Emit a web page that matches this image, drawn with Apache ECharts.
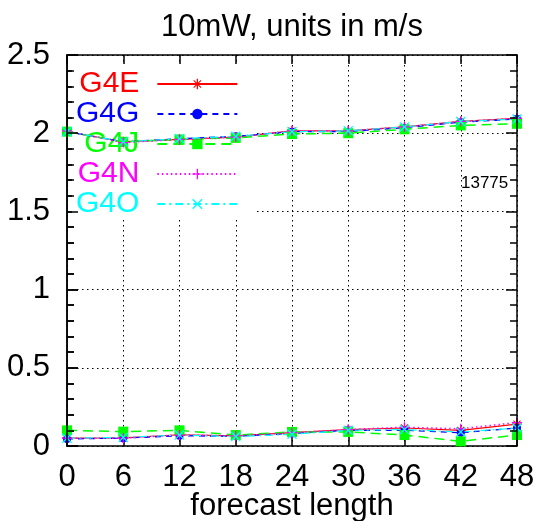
<!DOCTYPE html>
<html><head><meta charset="utf-8">
<script src="https://cdn.jsdelivr.net/npm/echarts@6/dist/echarts.min.js"></script>
<style>html,body{margin:0;padding:0;background:#fff}#c{width:542px;height:521px}</style>
</head><body><div id="c"></div>
<script>
// ---- data ----
const forecastLength = [0, 6, 12, 18, 24, 30, 36, 42, 48];
const models = ['G4E', 'G4G', 'G4J', 'G4N', 'G4O'];
// upper curves (RMS) per model
const g4eHigh = [2.01, 1.945, 1.96, 1.975, 2.015, 2.015, 2.04, 2.075, 2.095];
const g4gHigh = [2.01, 1.945, 1.965, 1.98, 2.01, 2.01, 2.035, 2.07, 2.09];
const g4jHigh = [2.01, 1.945, 1.96, 1.97, 1.995, 2.0, 2.025, 2.05, 2.06];
const g4nHigh = [2.015, 1.94, 1.96, 1.975, 2.015, 2.015, 2.04, 2.075, 2.095];
const g4oHigh = [2.01, 1.945, 1.965, 1.98, 2.01, 2.015, 2.04, 2.075, 2.09];
// lower curves (bias) per model
const g4eLow = [0.05, 0.052, 0.072, 0.065, 0.085, 0.105, 0.115, 0.10, 0.14];
const g4gLow = [0.045, 0.05, 0.065, 0.062, 0.08, 0.10, 0.10, 0.085, 0.115];
const g4jLow = [0.10, 0.092, 0.10, 0.07, 0.09, 0.09, 0.07, 0.03, 0.07];
const g4nLow = [0.05, 0.05, 0.07, 0.065, 0.085, 0.105, 0.12, 0.11, 0.15];
const g4oLow = [0.05, 0.055, 0.07, 0.06, 0.075, 0.10, 0.105, 0.09, 0.115];
const titleText = '10mW, units in m/s';
const xName = 'forecast length';
const noteText = '13775';

// ---- styles ----
const FONT = 'Liberation Sans, Arial, sans-serif';
const P_STAR = 'path://M-0.6,-5H0.6V5H-0.6Z M-5,-0.6H5V0.6H-5Z M-3.19,-3.89L3.89,3.19L3.19,3.89L-3.89,-3.19Z M3.19,-3.89L3.89,-3.19L-3.19,3.89L-3.89,3.19Z';
const P_PLUS = 'path://M-0.6,-5H0.6V5H-0.6Z M-5,-0.6H5V0.6H-5Z';
const P_X = 'path://M-3.19,-3.89L3.89,3.19L3.19,3.89L-3.89,-3.19Z M3.19,-3.89L3.89,-3.19L-3.19,3.89L-3.89,3.19Z';
const styles = {
  G4E: {color: '#ff0000', symbol: P_STAR, size: 10, type: 'solid', width: 1.2},
  G4G: {color: '#0000ff', symbol: 'circle', size: 8, type: [6, 5], width: 1.2},
  G4J: {color: '#00ff00', symbol: 'rect', size: 10, type: [10, 6], width: 1.5},
  G4N: {color: '#ff00ff', symbol: P_PLUS, size: 10, type: [1.5, 3], width: 1.5},
  G4O: {color: '#00ffff', symbol: P_X, size: 10, type: [8, 4, 2, 4], width: 1.2}
};
const dataHigh = {G4E: g4eHigh, G4G: g4gHigh, G4J: g4jHigh, G4N: g4nHigh, G4O: g4oHigh};
const dataLow = {G4E: g4eLow, G4G: g4gLow, G4J: g4jLow, G4N: g4nLow, G4O: g4oLow};

const series = [];
[dataHigh, dataLow].forEach(set => {
  models.forEach(m => {
    const s = styles[m];
    series.push({
      name: m, type: 'line', z: 5,
      data: forecastLength.map((x, i) => [x, set[m][i]]),
      symbol: s.symbol, symbolSize: s.size, showSymbol: true,
      itemStyle: {color: s.color},
      lineStyle: {color: s.color, type: s.type, width: s.width},
      animation: false
    });
  });
});

const axisLine = {show: true, onZero: false, lineStyle: {color: '#000', width: 1.5}};
const tickX = {show: true, inside: true, length: 9, lineStyle: {color: '#000', width: 1.5}};
const tickY = {show: true, inside: true, length: 11, lineStyle: {color: '#000', width: 1.5}};
const minorY = {show: true, splitNumber: 5, length: 7, lineStyle: {color: '#000', width: 1.5}};
const gridLine = {show: true, lineStyle: {color: '#000', type: [1.5, 3.5], width: 1}};
const chart = echarts.init(document.getElementById('c'));
chart.setOption({
  backgroundColor: '#fff',
  animation: false,
  title: {text: titleText, left: 287, textAlign: 'center', top: 7,
    textStyle: {fontFamily: FONT, fontSize: 31, fontWeight: 'normal', color: '#000'}},
  grid: {left: 67, right: 25, top: 55, bottom: 75, outerBoundsMode: 'none', containLabel: false},
  legend: {
    orient: 'vertical', align: 'right', left: 72, top: 64,
    padding: [5, 17, 0, 4], backgroundColor: '#fff',
    itemWidth: 80, itemHeight: 13, itemGap: 0,
    textStyle: {fontFamily: FONT, fontSize: 30, lineHeight: 28, padding: [0, 13, 0, 0]},
    data: models.map(m => ({name: m, textStyle: {color: styles[m].color}}))
  },
  xAxis: [{
    type: 'value', min: 0, max: 48, interval: 6, position: 'bottom', z: 0,
    name: xName, nameLocation: 'middle', nameGap: 45, nameMoveOverlap: false,
    nameTextStyle: {fontFamily: FONT, fontSize: 31, color: '#000'},
    axisLine: axisLine, axisTick: tickX,
    axisLabel: {fontFamily: FONT, fontSize: 31, color: '#000', margin: 16},
    splitLine: gridLine
  }, {
    type: 'value', min: 0, max: 48, interval: 6, position: 'top', z: 6,
    axisLine: axisLine, axisTick: tickX,
    axisLabel: {show: false}, splitLine: {show: false}
  }],
  yAxis: [{
    type: 'value', min: 0, max: 2.5, interval: 0.5, position: 'left', z: 0,
    axisLine: axisLine, axisTick: tickY, minorTick: minorY,
    axisLabel: {fontFamily: FONT, fontSize: 31, color: '#000', margin: 17},
    splitLine: gridLine
  }, {
    type: 'value', min: 0, max: 2.5, interval: 0.5, position: 'right', z: 6,
    axisLine: axisLine, axisTick: tickY, minorTick: minorY,
    axisLabel: {show: false}, splitLine: {show: false}
  }, {
    type: 'value', min: 0, max: 2.5, interval: 0.5, position: 'left', z: 6,
    axisLine: axisLine, axisTick: tickY, minorTick: minorY,
    axisLabel: {show: false}, splitLine: {show: false}
  }],
  graphic: [{
    type: 'text', left: 461, top: 175, z: 6,
    style: {text: noteText, fontFamily: FONT, fontSize: 17, fill: '#000'}
  }],
  series: series
});
</script>
</body></html>
